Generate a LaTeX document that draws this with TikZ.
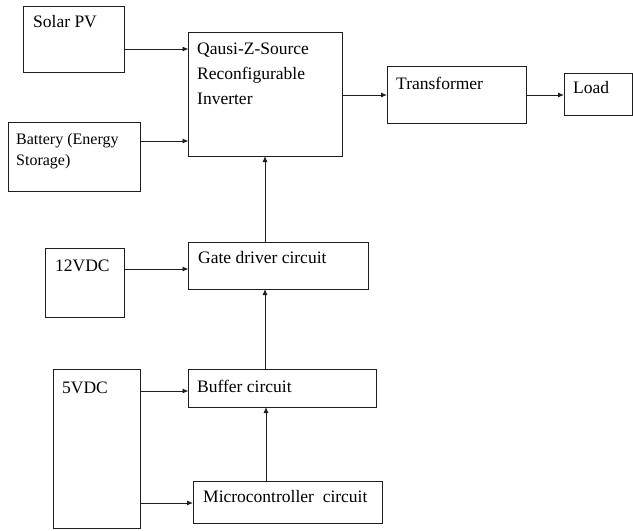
\documentclass[tikz,border=0pt]{standalone}
\usepackage{fontspec}
\setmainfont{Liberation Serif}
\usetikzlibrary{arrows.meta}
\definecolor{edge}{RGB}{30, 30, 30}

\tikzset{
  blk/.style 2 args={draw=edge, line width=0.9pt, inner sep=0pt, outer sep=0pt,
    anchor=north west, minimum width=#1, minimum height=#2},
  lbl/.style={anchor=base west, inner sep=0pt, font=\rmfamily\fontsize{17.5}{25}\selectfont, align=left},
  arr/.style={draw=edge, line width=0.9pt, -{Latex[length=6pt,width=5pt]}}
}

\begin{document}
\begin{tikzpicture}[x=1pt,y=-1pt]
\useasboundingbox (0,0) rectangle (633,531);
% Blocks
\node[blk={101pt}{66pt}] (pv) at (23.5,6) {};
\node[blk={153.5pt}{124pt}] (inv) at (188.5,32) {};
\node[blk={132pt}{68.5pt}] (bat) at (8,122.5) {};
\node[blk={139pt}{57pt}] (tr) at (387,66) {};
\node[blk={68pt}{42pt}] (load) at (564,73) {};
\node[blk={79pt}{69pt}] (vtw) at (45,248) {};
\node[blk={179.5pt}{47pt}] (gate) at (188.5,242) {};
\node[blk={87pt}{159pt}] (vfv) at (53,369) {};
\node[blk={188pt}{38pt}] (buf) at (188.5,369) {};
\node[blk={189pt}{42pt}] (mcu) at (193,481) {};
% Labels (base of a multi-line label is its last line)
\node[lbl] (pvtxt) at ([shift={(9.5,21)}]pv.north west) {Solar PV};
\node[lbl] (invtxt) at ([shift={(8.5,72)}]inv.north west) {Qausi-Z-Source\\Reconfigurable\\Inverter};
\node[lbl, font=\rmfamily\fontsize{16}{21}\selectfont] (battxt) at ([shift={(8,42.5)}]bat.north west) {Battery (Energy\\Storage)};
\node[lbl] (trtxt) at ([shift={(9,23)}]tr.north west) {Transformer};
\node[lbl] (loadtxt) at ([shift={(9,20)}]load.north west) {Load};
\node[lbl] (vtwtxt) at ([shift={(10,23)}]vtw.north west) {12VDC};
\node[lbl] (gatetxt) at ([shift={(9.5,21)}]gate.north west) {Gate driver circuit};
\node[lbl] (vfvtxt) at ([shift={(9,24)}]vfv.north west) {5VDC};
\node[lbl] (buftxt) at ([shift={(8.5,23)}]buf.north west) {Buffer circuit};
\node[lbl] (mcutxt) at ([shift={(10,21)}]mcu.north west) {Microcontroller\ \ circuit};
% Connector start points
\coordinate (pvout) at ([yshift=-43pt]pv.north east);
\coordinate (batout) at ([yshift=-18.5pt]bat.north east);
\coordinate (trin) at ([yshift=-29pt]tr.north west);
\coordinate (trout) at ([yshift=-29pt]tr.north east);
\coordinate (vtwout) at ([yshift=-21pt]vtw.north east);
\coordinate (vfvbuf) at ([yshift=-22pt]vfv.north east);
\coordinate (vfvmcu) at ([yshift=-134pt]vfv.north east);
\coordinate (gateup) at ([xshift=76.5pt]gate.north west);
\coordinate (bufup) at ([xshift=76.5pt]buf.north west);
\coordinate (mcuup) at ([xshift=73pt]mcu.north west);
% Connectors
\draw[arr] (pvout) -- (pvout -| inv.west);
\draw[arr] (batout) -- (batout -| inv.west);
\draw[arr] (trin -| inv.east) -- (trin);
\draw[arr] (trout) -- (trout -| load.west);
\draw[arr] (vtwout) -- (vtwout -| gate.west);
\draw[arr] (gateup) -- (gateup |- inv.south);
\draw[arr] (bufup) -- (bufup |- gate.south);
\draw[arr] (vfvbuf) -- (vfvbuf -| buf.west);
\draw[arr] (vfvmcu) -- (vfvmcu -| mcu.west);
\draw[arr] (mcuup) -- (mcuup |- buf.south);
\end{tikzpicture}
\end{document}
